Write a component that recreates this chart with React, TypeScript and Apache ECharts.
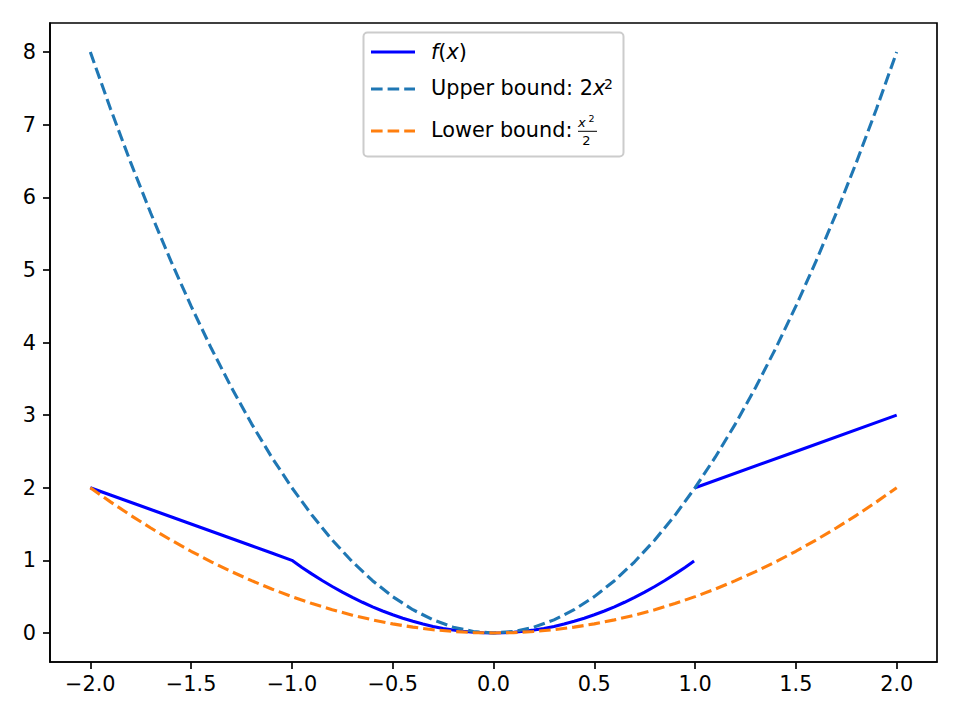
import React, { useEffect, useRef } from "react";
import * as echarts from "echarts";

// Sampled x positions
const xs = [
  -2.0, -1.9, -1.8, -1.7, -1.6, -1.5, -1.4, -1.3, -1.2, -1.1, -1.0, -0.9, -0.8, -0.7, -0.6, -0.5, -0.4, -0.3, -0.2, -0.1,
  0.0, 0.1, 0.2, 0.3, 0.4, 0.5, 0.6, 0.7, 0.8, 0.9, 1.0, 1.1, 1.2, 1.3, 1.4, 1.5, 1.6, 1.7, 1.8, 1.9, 2.0,
];
// Upper bound 2x^2
const upperVals = [
  8.0, 7.22, 6.48, 5.78, 5.12, 4.5, 3.92, 3.38, 2.88, 2.42, 2.0, 1.62, 1.28, 0.98, 0.72, 0.5, 0.32, 0.18, 0.08, 0.02,
  0.0, 0.02, 0.08, 0.18, 0.32, 0.5, 0.72, 0.98, 1.28, 1.62, 2.0, 2.42, 2.88, 3.38, 3.92, 4.5, 5.12, 5.78, 6.48, 7.22, 8.0,
];
// Lower bound x^2/2
const lowerVals = [
  2.0, 1.805, 1.62, 1.445, 1.28, 1.125, 0.98, 0.845, 0.72, 0.605, 0.5, 0.405, 0.32, 0.245, 0.18, 0.125, 0.08, 0.045, 0.02, 0.005,
  0.0, 0.005, 0.02, 0.045, 0.08, 0.125, 0.18, 0.245, 0.32, 0.405, 0.5, 0.605, 0.72, 0.845, 0.98, 1.125, 1.28, 1.445, 1.62, 1.805, 2.0,
];
// f(x), left piece (x from -2 to 1)
const fLeftX = [
  -2.0, -1.9, -1.8, -1.7, -1.6, -1.5, -1.4, -1.3, -1.2, -1.1, -1.0, -0.95, -0.9, -0.85, -0.8, -0.75, -0.7, -0.65, -0.6, -0.55,
  -0.5, -0.45, -0.4, -0.35, -0.3, -0.25, -0.2, -0.15, -0.1, -0.05, 0.0, 0.05, 0.1, 0.15, 0.2, 0.25, 0.3, 0.35, 0.4, 0.45,
  0.5, 0.55, 0.6, 0.65, 0.7, 0.75, 0.8, 0.85, 0.9, 0.95, 0.995,
];
const fLeftY = [
  2.0, 1.9, 1.8, 1.7, 1.6, 1.5, 1.4, 1.3, 1.2, 1.1, 1.0, 0.9025, 0.81, 0.7225, 0.64, 0.5625, 0.49, 0.4225, 0.36, 0.3025,
  0.25, 0.2025, 0.16, 0.1225, 0.09, 0.0625, 0.04, 0.0225, 0.01, 0.0025, 0.0, 0.0025, 0.01, 0.0225, 0.04, 0.0625, 0.09, 0.1225, 0.16, 0.2025,
  0.25, 0.3025, 0.36, 0.4225, 0.49, 0.5625, 0.64, 0.7225, 0.81, 0.9025, 0.99,
];
// f(x), right piece (x from 1 to 2)
const fRightX = [1.0, 1.5, 2.0];
const fRightY = [2.0, 2.5, 3.0];

const xTicks = [-2.0, -1.5, -1.0, -0.5, 0.0, 0.5, 1.0, 1.5, 2.0];
const yTicks = [0, 1, 2, 3, 4, 5, 6, 7, 8];

const zip = (a: number[], b: number[]) => a.map((v, i) => [v, b[i]]);
const fmtMinus = (s: string) => s.replace("-", "\u2212");

const FONT = "DejaVu Sans";
const FS = 20.8;
const LW = 3.1;
const DASH = [11.6, 5];

export default function App() {
  const ref = useRef<HTMLDivElement>(null);
  useEffect(() => {
    if (!ref.current) return;
    const chart = echarts.init(ref.current, undefined, { renderer: "svg" });
    const axisCommon = {
      axisLine: { show: true, onZero: false, lineStyle: { color: "#000", width: 1.67 } },
      axisTick: { show: true, inside: false, length: 7, lineStyle: { color: "#000", width: 1.67 } },
      splitLine: { show: false },
    };
    chart.setOption({
      animation: false,
      backgroundColor: "#fff",
      grid: { left: 50, right: 23, top: 23, bottom: 58, show: true, borderColor: "#000", borderWidth: 1.67, containLabel: false },
      xAxis: {
        type: "value",
        min: -2.2,
        max: 2.2,
        ...axisCommon,
        axisTick: { ...axisCommon.axisTick, customValues: xTicks },
        axisLabel: {
          customValues: xTicks,
          color: "#000",
          fontFamily: FONT,
          fontSize: FS,
          margin: 11,
          formatter: (v: number) => fmtMinus(v.toFixed(1)),
        },
      },
      yAxis: {
        type: "value",
        min: -0.4,
        max: 8.4,
        ...axisCommon,
        axisTick: { ...axisCommon.axisTick, customValues: yTicks },
        axisLabel: {
          customValues: yTicks,
          color: "#000",
          fontFamily: FONT,
          fontSize: FS,
          margin: 14,
          formatter: (v: number) => String(Math.round(v)),
        },
      },
      series: [
        {
          name: "f(x)",
          type: "line",
          data: zip(fLeftX, fLeftY),
          showSymbol: false,
          lineStyle: { color: "#0000ff", width: LW },
        },
        {
          name: "f(x) right",
          type: "line",
          data: zip(fRightX, fRightY),
          showSymbol: false,
          lineStyle: { color: "#0000ff", width: LW },
        },
        {
          name: "Upper bound",
          type: "line",
          data: zip(xs, upperVals),
          showSymbol: false,
          lineStyle: { color: "#1f77b4", width: LW, type: DASH },
        },
        {
          name: "Lower bound",
          type: "line",
          data: zip(xs, lowerVals),
          showSymbol: false,
          lineStyle: { color: "#ff7f0e", width: LW, type: DASH },
        },
      ],
      graphic: [
        {
          type: "group",
          z: 100,
          children: [
            {
              type: "rect",
              shape: { x: 363.5, y: 32.5, width: 260, height: 124, r: 4 },
              style: { fill: "rgba(255,255,255,0.8)", stroke: "#cccccc", lineWidth: 2 },
            },
            { type: "line", shape: { x1: 371, y1: 52, x2: 415, y2: 52 }, style: { stroke: "#0000ff", lineWidth: LW } },
            { type: "line", shape: { x1: 371, y1: 89, x2: 415, y2: 89 }, style: { stroke: "#1f77b4", lineWidth: LW, lineDash: DASH } },
            { type: "line", shape: { x1: 371, y1: 131, x2: 415, y2: 131 }, style: { stroke: "#ff7f0e", lineWidth: LW, lineDash: DASH } },
            {
              type: "text",
              x: 431,
              y: 52,
              style: {
                text: "{i|f}({i|x})",
                fill: "#000",
                font: `${FS}px ${FONT}`,
                verticalAlign: "middle",
                rich: { i: { fontStyle: "italic", fontFamily: FONT, fontSize: FS } },
              },
            },
            {
              type: "text",
              x: 431,
              y: 88,
              style: {
                text: "Upper bound: 2{i|x}",
                fill: "#000",
                font: `${FS}px ${FONT}`,
                verticalAlign: "middle",
                rich: {
                  i: { fontStyle: "italic", fontFamily: FONT, fontSize: FS },
                },
              },
            },
            {
              type: "text",
              x: 604,
              y: 84,
              style: { text: "2", fill: "#000", font: `14px ${FONT}`, verticalAlign: "middle" },
            },
            {
              type: "text",
              x: 431,
              y: 130,
              style: { text: "Lower bound: ", fill: "#000", font: `${FS}px ${FONT}`, verticalAlign: "middle" },
            },
            {
              type: "text",
              x: 578,
              y: 122.5,
              style: { text: "x", fill: "#000", font: `italic 13px ${FONT}`, verticalAlign: "middle" },
            },
            {
              type: "text",
              x: 588.5,
              y: 118.5,
              style: { text: "2", fill: "#000", font: `9.5px ${FONT}`, verticalAlign: "middle" },
            },
            { type: "line", shape: { x1: 578, y1: 131.3, x2: 597, y2: 131.3 }, style: { stroke: "#000", lineWidth: 1 } },
            {
              type: "text",
              x: 586.5,
              y: 140.5,
              style: { text: "2", fill: "#000", font: `13px ${FONT}`, align: "center", verticalAlign: "middle" },
            },
          ],
        },
      ],
    });
    return () => chart.dispose();
  }, []);
  return <div ref={ref} style={{ position: "fixed", left: 0, top: 0, width: 960, height: 720 }} />;
}
